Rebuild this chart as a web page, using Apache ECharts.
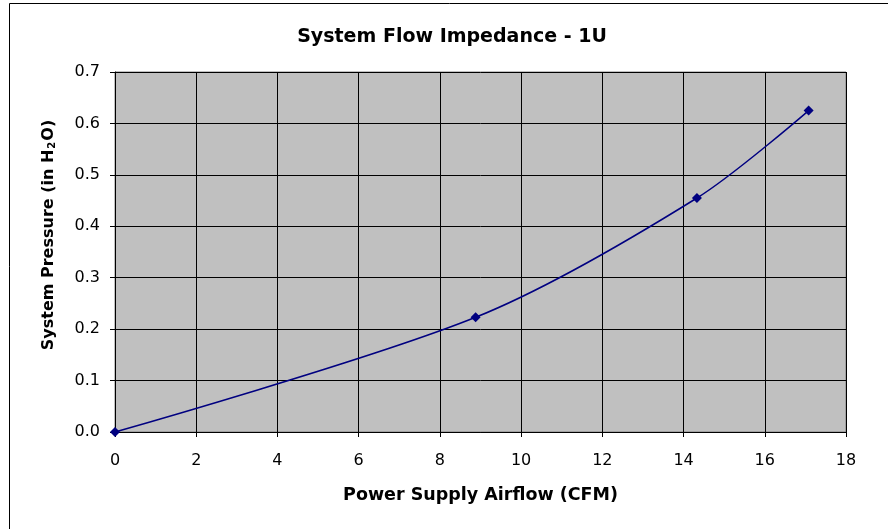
<!DOCTYPE html>
<html>
<head>
<meta charset="utf-8">
<script src="https://cdn.jsdelivr.net/npm/echarts@6/dist/echarts.min.js"></script>
<style>
  html, body { margin: 0; padding: 0; background: #fff; }
  #main { width: 888px; height: 529px; }
</style>
</head>
<body>
<div id="main"></div>
<script>
// airflow (CFM) vs. system pressure (in H2O)
var airflow = [0, 8.88, 14.33, 17.08];
var pressure = [0, 0.223, 0.455, 0.625];
var xTicks = [0, 2, 4, 6, 8, 10, 12, 14, 16, 18];
var yTicks = [0, 0.1, 0.2, 0.3, 0.4, 0.5, 0.6, 0.7];

var font = '"DejaVu Sans", Arial, sans-serif';

function render() {
    var myChart = echarts.init(document.getElementById('main'));

    var points = airflow.map(function (x, i) { return [x, pressure[i]]; });

    var option = {
        backgroundColor: '#fff',
        animation: false,
        title: {
            text: 'System Flow Impedance - 1U',
            left: 447,
            top: 23,
            textAlign: 'center',
            textStyle: { fontFamily: font, fontSize: 19, fontWeight: 'bold', color: '#000' }
        },
        // outer chart frame
        graphic: [{
            type: 'rect',
            shape: { x: 9.5, y: 3.5, width: 1000, height: 1000 },
            style: { fill: 'none', stroke: '#000', lineWidth: 1 },
            silent: true
        }],
        grid: {
            left: 115,
            right: 42,
            top: 72,
            bottom: 97,
            show: true,
            backgroundColor: '#c0c0c0',
            borderColor: '#808080',
            borderWidth: 1
        },
        xAxis: {
            type: 'value',
            min: xTicks[0],
            max: xTicks[xTicks.length - 1],
            interval: 2,
            name: 'Power Supply Airflow (CFM)',
            nameLocation: 'middle',
            nameGap: 54,
            nameTextStyle: { fontFamily: font, fontSize: 17.5, fontWeight: 'bold', color: '#000' },
            axisLine: { show: true, onZero: false, lineStyle: { color: '#000', width: 1 } },
            axisTick: { show: true, length: 5, lineStyle: { color: '#000' } },
            axisLabel: { fontFamily: font, fontSize: 16, color: '#000', margin: 21 },
            splitLine: { show: true, lineStyle: { color: '#000', width: 1 } }
        },
        yAxis: {
            type: 'value',
            min: yTicks[0],
            max: yTicks[yTicks.length - 1],
            interval: 0.1,
            name: '{a|System Pressure (in H}{s|2}{a|O)}',
            nameLocation: 'middle',
            nameGap: 58,
            nameTextStyle: {
                padding: [0, 0, 0, 34],
                rich: {
                    a: { fontFamily: font, fontSize: 16, fontWeight: 'bold', color: '#000' },
                    s: { fontFamily: font, fontSize: 10, fontWeight: 'bold', color: '#000', verticalAlign: 'bottom', padding: [6, 1, 0, 1] }
                }
            },
            axisLine: { show: true, onZero: false, lineStyle: { color: '#000', width: 1 } },
            axisTick: { show: true, length: 5, lineStyle: { color: '#000' } },
            axisLabel: {
                fontFamily: font, fontSize: 16, color: '#000', margin: 15,
                formatter: function (v) { return v.toFixed(1); }
            },
            splitLine: { show: true, lineStyle: { color: '#000', width: 1 } }
        },
        series: [{
            type: 'line',
            data: points,
            smooth: 0.3,
            symbol: 'diamond',
            symbolSize: 10,
            itemStyle: { color: '#000080' },
            lineStyle: { color: '#000080', width: 1.5 }
        }]
    };
    myChart.setOption(option);
}

render();
</script>
</body>
</html>
